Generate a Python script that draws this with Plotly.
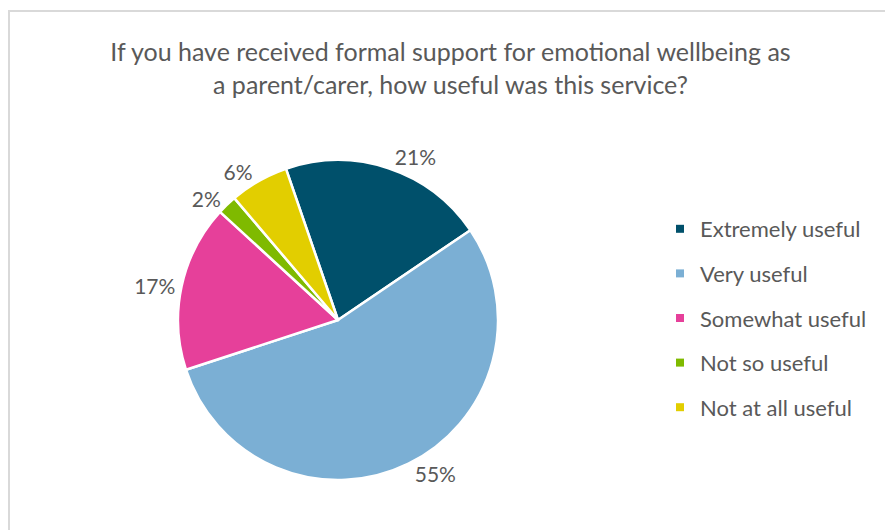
import plotly.graph_objects as go

# Survey responses (share of respondents, %)
categories = ["Extremely useful", "Very useful", "Somewhat useful", "Not so useful", "Not at all useful"]
percentages = [21, 55, 17, 2, 6]
colours = ["#00506B", "#7BAFD4", "#E6409A", "#7FBA00", "#E2CE00"]

title_lines = [
    "If you have received formal support for emotional wellbeing as",
    "a parent/carer, how useful was this service?",
]

FONT = "Lato, 'Open Sans', sans-serif"
GREY = "#595959"

fig = go.Figure()

fig.add_trace(go.Pie(
    labels=categories,
    values=percentages,
    sort=False,
    direction="clockwise",
    rotation=-19,
    marker=dict(colors=colours, line=dict(color="white", width=2.5)),
    texttemplate="%{value}%",
    textposition="outside",
    textfont=dict(family=FONT, size=21, color=GREY),
    automargin=False,
    showlegend=False,
    domain=dict(x=[178 / 885, 498 / 885], y=[1 - 480 / 530, 1 - 160 / 530]),
    hoverinfo="label+percent",
))

# Legend entries, one group per category so the spacing can be set
for cat, col in zip(categories, colours):
    fig.add_trace(go.Scatter(
        x=[None], y=[None], mode="markers",
        marker=dict(symbol="square", size=8, color=col),
        name=cat, legendgroup=cat, showlegend=True, hoverinfo="skip",
    ))

fig.update_layout(
    width=885, height=530,
    margin=dict(l=0, r=0, t=0, b=0),
    paper_bgcolor="white", plot_bgcolor="white",
    font=dict(family=FONT, color=GREY),
    title=dict(
        text="<br>".join(title_lines),
        x=0.509, xanchor="center",
        y=1 - 61 / 530, yanchor="middle",
        font=dict(family=FONT, size=25, color=GREY),
    ),
    xaxis=dict(visible=False),
    yaxis=dict(visible=False),
    legend=dict(
        x=660 / 885, xanchor="left",
        y=1 - 208 / 530, yanchor="top",
        font=dict(family=FONT, size=22, color=GREY),
        tracegroupgap=13,
        itemwidth=30,
        bgcolor="rgba(0,0,0,0)",
    ),
    shapes=[dict(
        type="rect", xref="paper", yref="paper",
        x0=9 / 885, x1=1.05, y0=-0.05, y1=1 - 11 / 530,
        line=dict(color="#D9D9D9", width=2),
    )],
)

fig.write_html("out.html")
